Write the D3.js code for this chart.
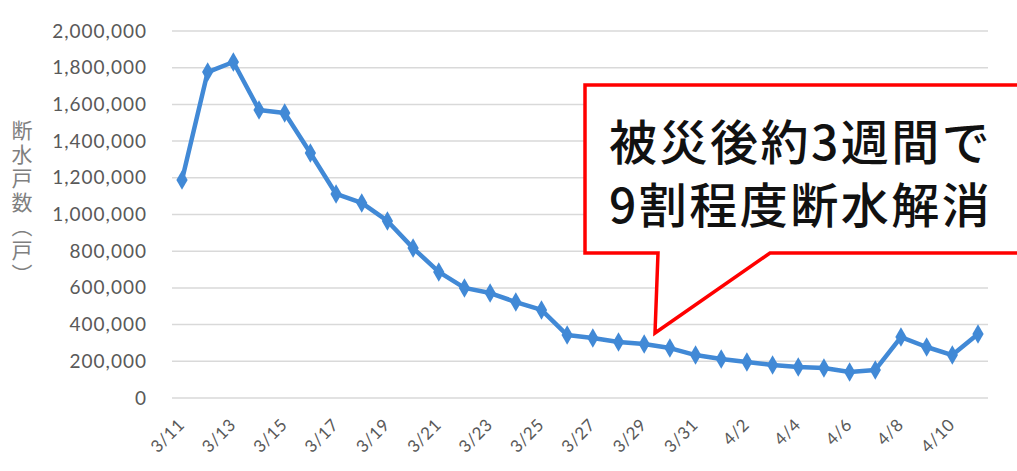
<!DOCTYPE html>
<html>
<head>
<meta charset="utf-8">
<script src="https://cdn.jsdelivr.net/npm/d3@7"></script>
<style>
  body { margin: 0; background: #fff; }
  svg { display: block; }
</style>
</head>
<body>
<script>
"use strict";

// dates from 3/11 to 4/11
let dates = ['3/11','3/12','3/13','3/14','3/15','3/16','3/17','3/18','3/19','3/20',
  '3/21','3/22','3/23','3/24','3/25','3/26','3/27','3/28','3/29','3/30','3/31',
  '4/1','4/2','4/3','4/4','4/5','4/6','4/7','4/8','4/9','4/10','4/11'];

// households without water
let households = [1188000, 1776000, 1831000, 1570000, 1553000, 1335000, 1112000, 1063000, 965000, 817000,
  687000, 600000, 572000, 523000, 480000, 343000, 327000, 305000, 294000, 272000, 234000,
  213000, 196000, 180000, 169000, 163000, 142000, 153000, 332000, 278000, 234000, 349000];

let yTicks = [0, 200000, 400000, 600000, 800000, 1000000, 1200000, 1400000, 1600000, 1800000, 2000000];
let xTickLabels = dates.filter((d, i) => i % 2 === 0 && i < 31);

let yTitle = '断水戸数（戸）';
let calloutLines = ['被災後約3週間で', '9割程度断水解消'];

let W = 1017, H = 471;
let plot = {left: 172, right: 988, top: 31, bottom: 398};

let svg = d3.select('body')
    .append('svg')
    .attr('width', W)
    .attr('height', H);

let x = d3.scalePoint()
    .domain(dates)
    .range([182, 978]);

let y = d3.scaleLinear()
    .domain([0, 2000000])
    .range([plot.bottom, plot.top]);

// gridlines
svg.append('g')
    .selectAll('line')
    .data(yTicks)
    .enter()
    .append('line')
    .attr('x1', plot.left)
    .attr('x2', plot.right)
    .attr('y1', d => y(d))
    .attr('y2', d => y(d))
    .attr('stroke', '#d9d9d9')
    .attr('stroke-width', 1.5);

// y axis
let yAxis = svg.append('g')
    .attr('transform', 'translate(' + (plot.left - 25) + ',0)')
    .call(d3.axisLeft(y).tickValues(yTicks).tickSize(0).tickFormat(d3.format(',')));
yAxis.select('.domain').remove();
yAxis.selectAll('text')
    .attr('x', 0)
    .attr('fill', '#595959')
    .style('font-family', 'Lato, sans-serif')
    .style('font-size', '19px')
    .style('letter-spacing', '1px');

// x axis
let xAxis = svg.append('g')
    .attr('transform', 'translate(0,' + plot.bottom + ')')
    .call(d3.axisBottom(x).tickValues(xTickLabels).tickSize(0));
xAxis.select('.domain').remove();
xAxis.selectAll('text')
    .attr('fill', '#595959')
    .attr('text-anchor', 'end')
    .attr('dy', 0)
    .attr('y', 0)
    .attr('transform', 'translate(3,28) rotate(-45)')
    .style('font-family', 'Lato, sans-serif')
    .style('font-size', '17px')
    .style('letter-spacing', '0.5px');

// y title, vertical
svg.append('text')
    .attr('x', 22)
    .attr('y', 120)
    .attr('fill', '#7f7f7f')
    .style('writing-mode', 'vertical-rl')
    .style('font-family', '"Noto Sans CJK JP", sans-serif')
    .style('font-size', '21px')
    .style('letter-spacing', '3px')
    .text(yTitle);

// line
let line = d3.line()
    .x((d, i) => x(dates[i]))
    .y(d => y(d));

svg.append('path')
    .datum(households)
    .attr('d', line)
    .attr('fill', 'none')
    .attr('stroke', '#4189d6')
    .attr('stroke-width', 4.5)
    .attr('stroke-linejoin', 'round');

svg.append('g')
    .selectAll('path')
    .data(households)
    .enter()
    .append('path')
    .attr('d', d3.symbol().type(d3.symbolDiamond).size(110))
    .attr('transform', (d, i) => 'translate(' + x(dates[i]) + ',' + y(d) + ')')
    .attr('fill', '#4189d6');

// callout box
let box = {x0: 585, x1: 1030, y0: 85, y1: 253};
let tip = [655, 333];
svg.append('path')
    .attr('d', 'M' + box.x0 + ',' + box.y0 +
        'L' + box.x1 + ',' + box.y0 +
        'L' + box.x1 + ',' + box.y1 +
        'L770,' + box.y1 +
        'L' + tip[0] + ',' + tip[1] +
        'L658,' + box.y1 +
        'L' + box.x0 + ',' + box.y1 + 'Z')
    .attr('fill', '#fff')
    .attr('stroke', '#ff0000')
    .attr('stroke-width', 3.5);

svg.append('g')
    .selectAll('text')
    .data(calloutLines)
    .enter()
    .append('text')
    .attr('x', 609)
    .attr('y', (d, i) => 160 + i * 63)
    .attr('fill', '#111')
    .style('font-family', '"Noto Sans CJK JP", sans-serif')
    .style('font-size', '48px')
    .style('font-weight', 500)
    .style('letter-spacing', '2.5px')
    .text(d => d);
</script>
</body>
</html>
